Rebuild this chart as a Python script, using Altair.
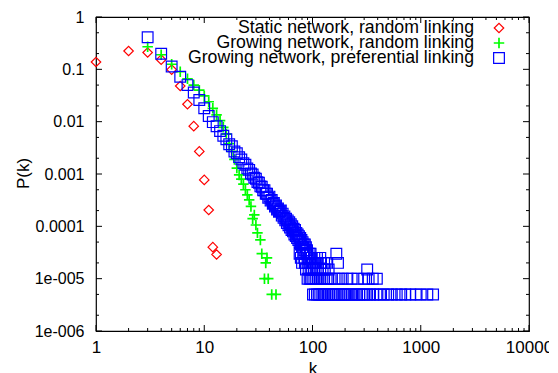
import json
import altair as alt
import pandas as pd

# ---------------- data ----------------
series_names = [
    "Static network, random linking",
    "Growing network, random linking",
    "Growing network, preferential linking",
]

static_k = [1, 2, 3, 4, 5, 6, 7, 8, 9, 10, 11, 12, 13]
static_p = [0.138, 0.224, 0.21, 0.153, 0.099, 0.048, 0.0215, 0.0082, 0.0027,
            0.00077, 0.000205, 4.0e-5, 2.9e-5]

grow_rand_k = [3, 4, 5, 6, 7, 8, 9, 10, 11, 12, 13, 14, 15, 16, 17, 18, 19, 20,
               21, 22, 23, 24, 25, 26, 27, 28, 29, 30, 31, 33, 34, 36, 37, 38,
               39, 42, 46]
grow_rand_p = [0.27, 0.19, 0.125, 0.09, 0.066, 0.05, 0.04, 0.031, 0.024, 0.018,
               0.0135, 0.0105, 0.0078, 0.0058, 0.0038, 0.0027, 0.0019, 0.0013,
               0.00096, 0.0008, 0.00064, 0.0005, 0.0004, 0.00032, 0.00024,
               0.00014, 0.000165, 0.000106, 7.5e-5, 5.5e-5, 3.0e-5, 1.0e-5,
               2.0e-5, 2.5e-5, 1.0e-5, 5e-6, 5e-6]

grow_pref_k = [3, 4, 5, 6, 7, 8, 9, 10, 11, 12, 13, 14, 15, 16, 17, 18, 19, 20,
               21, 22, 23, 24, 25, 26, 27, 28, 29, 30, 31, 32, 33, 34, 35, 36,
               37, 38, 39, 40, 41, 42, 43, 44, 45, 46, 47, 48, 49, 50,
               51, 52, 53, 54, 55, 56, 57, 58, 59, 60, 61, 62, 63, 64, 65, 66,
               67, 68, 69, 70, 71, 72, 73, 74, 75, 76, 77, 78, 79, 80, 81, 82,
               83, 84, 85, 86, 87, 88, 89, 90, 92, 94, 96, 98, 100]
grow_pref_p = [0.41, 0.198, 0.113, 0.072, 0.050, 0.036, 0.026, 0.018, 0.0128,
               0.0098, 0.0082, 0.0066, 0.0054, 0.0046, 0.0037, 0.0034, 0.0027,
               0.0025, 0.0021, 0.0019, 0.0016, 0.0015, 0.00128, 0.0012, 0.00102,
               0.00098, 0.00085, 0.00081, 0.0007, 0.00068, 0.00058, 0.00057,
               0.00049, 0.00049, 0.00042, 0.00042, 0.00035, 0.00037, 0.00031,
               0.00032, 0.00027, 0.00028, 0.00024, 0.00025, 0.00021, 0.00022,
               0.00019, 0.000195,
               2.0e-4, 1.6e-4, 1.75e-4, 1.45e-4, 1.55e-4, 1.3e-4, 1.4e-4, 1.15e-4,
               1.3e-4, 1.05e-4, 1.2e-4, 9.5e-5, 1.1e-4, 8.5e-5, 1.0e-4, 8.0e-5,
               9.0e-5, 7.0e-5, 8.5e-5, 6.5e-5, 7.5e-5, 6.0e-5, 7.0e-5, 5.5e-5,
               6.5e-5, 5.0e-5, 6.0e-5, 4.5e-5, 5.5e-5, 4.0e-5, 5.0e-5, 4.0e-5,
               4.5e-5, 3.5e-5, 4.5e-5, 3.5e-5, 4.0e-5, 3.0e-5, 3.5e-5, 3.0e-5,
               2.5e-5, 3.0e-5, 2.5e-5, 2.5e-5, 2.0e-5]

# tail of the preferential series (low counts)
tail_k = [166, 76, 82, 88, 96,
          78, 84, 92, 98, 104, 110, 118,
          80, 85, 90, 95, 106, 112, 120, 128, 135, 172,
          87, 92, 96, 99, 103, 107, 112, 118, 124, 130, 141, 320,
          90, 94, 97, 100, 104, 108, 112, 117, 122, 128, 135, 140, 147, 160,
          175, 190, 210, 230, 260, 300, 330, 360, 393,
          101, 105, 110, 114, 118, 123, 127, 131, 137, 142, 150, 156, 163,
          170, 178, 185, 193, 200, 210, 220, 232, 245, 258, 270, 285, 300,
          320, 340, 365, 390, 420, 455, 500, 540, 600, 660, 720, 800, 900,
          1000, 1150, 1300]
tail_p = ([3.0e-5] * 5 + [2.5e-5] * 7 + [2.0e-5] * 10 + [1.5e-5] * 12
          + [1.0e-5] * 23 + [5e-6] * 42)

x_tick_values = [1, 10, 100, 1000, 10000]
x_tick_labels = ["1", "10", "100", "1000", "10000"]
y_tick_values = [1, 0.1, 0.01, 0.001, 0.0001, 1e-5, 1e-6]
y_tick_labels = ["1", "0.1", "0.01", "0.001", "0.0001", "1e-005", "1e-006"]

# ---------------- styling ----------------
W, H = 433, 314
FONT = "Liberation Sans"
RED, GREEN, BLUE = "#ff0000", "#00ff00", "#0000ff"
PLUS = "M-1,0L1,0M0,-1L0,1"

xscale = alt.Scale(type="log", domain=[1, 10000], nice=False)
yscale = alt.Scale(type="log", domain=[1e-6, 1], nice=False)

xaxis = alt.Axis(values=x_tick_values,
                 labelExpr=f"{json.dumps(x_tick_labels)}[round(log(datum.value)/LN10)]",
                 title="k", titleY=42, titleX=W / 2, titleBaseline="alphabetic",
                 titleAlign="center",
                 labelPadding=8, domain=False, ticks=False, grid=False,
                 labelFont=FONT, labelFontSize=17, labelColor="black",
                 titleFont=FONT, titleFontSize=17, titleFontWeight="normal",
                 titleColor="black", labelFlush=False, labelOverlap=False)
yaxis = alt.Axis(values=y_tick_values,
                 labelExpr=f"{json.dumps(y_tick_labels)}[round(-log(datum.value)/LN10)]",
                 title="P(k)", titleX=-73, titleY=156, titleAngle=270,
                 titleAlign="center", titleBaseline="middle",
                 labelPadding=12, domain=False, ticks=False, grid=False,
                 labelFont=FONT, labelFontSize=16, labelColor="black",
                 titleFont=FONT, titleFontSize=17, titleFontWeight="normal",
                 titleColor="black", labelFlush=False, labelOverlap=False)


def points(k, p, shape, color, size, sw):
    df = pd.DataFrame({"k": k, "p": p})
    return alt.Chart(df).mark_point(
        shape=shape, filled=False, color=color, size=size,
        strokeWidth=sw, opacity=1
    ).encode(x=alt.X("k:Q", scale=xscale, axis=xaxis),
             y=alt.Y("p:Q", scale=yscale, axis=yaxis))


layers = []

# inward ticks
x_minor = [m * d for d in [1, 10, 100, 1000] for m in range(2, 10)]
y_minor = [m * d for d in [1e-6, 1e-5, 1e-4, 1e-3, 1e-2, 1e-1] for m in (2, 5)]
for vals, ln in ((x_tick_values, 6), (x_minor, 3)):
    tdf = pd.DataFrame({"t": vals})
    for y0, y1 in ((H, H - ln), (0, ln)):
        layers.append(alt.Chart(tdf).mark_rule(color="black", strokeWidth=1).encode(
            x=alt.X("t:Q", scale=xscale, axis=xaxis),
            y=alt.value(y0), y2=alt.value(y1)))
for vals, ln in ((y_tick_values, 6), (y_minor, 3)):
    tdf = pd.DataFrame({"t": vals})
    for x0, x1 in ((0, ln), (W, W - ln)):
        layers.append(alt.Chart(tdf).mark_rule(color="black", strokeWidth=1).encode(
            y=alt.Y("t:Q", scale=yscale, axis=yaxis),
            x=alt.value(x0), x2=alt.value(x1)))

layers.append(points(static_k, static_p, "diamond", RED, 90, 1.2))
layers.append(points(grow_rand_k, grow_rand_p, PLUS, GREEN, 110, 1.7))
layers.append(points(grow_pref_k + tail_k, grow_pref_p + tail_p, "square", BLUE, 115, 1.2))

# legend (labels left, symbols right, as in the reference)
leg_y = [11, 26, 41]
leg_style = [("diamond", RED, 90, 1.2), (PLUS, GREEN, 110, 1.7), ("square", BLUE, 115, 1.2)]
one = pd.DataFrame({"a": [0]})
for name, yy, (shape, color, size, sw) in zip(series_names, leg_y, leg_style):
    layers.append(alt.Chart(one).mark_text(
        text=name, align="right", baseline="middle", font=FONT, fontSize=17.7,
        color="black").encode(x=alt.value(378), y=alt.value(yy)))
    layers.append(alt.Chart(one).mark_point(
        shape=shape, filled=False, color=color, size=size, strokeWidth=sw,
        opacity=1).encode(x=alt.value(403), y=alt.value(yy)))

chart = alt.layer(*layers).properties(
    width=W, height=H,
    autosize=alt.AutoSizeParams(type="none"),
    padding={"left": 88, "top": 9, "right": 20, "bottom": 43},
).configure_view(stroke="black", strokeWidth=1.2)

chart.save("out.html", embed_options={"renderer": "svg", "actions": False})
